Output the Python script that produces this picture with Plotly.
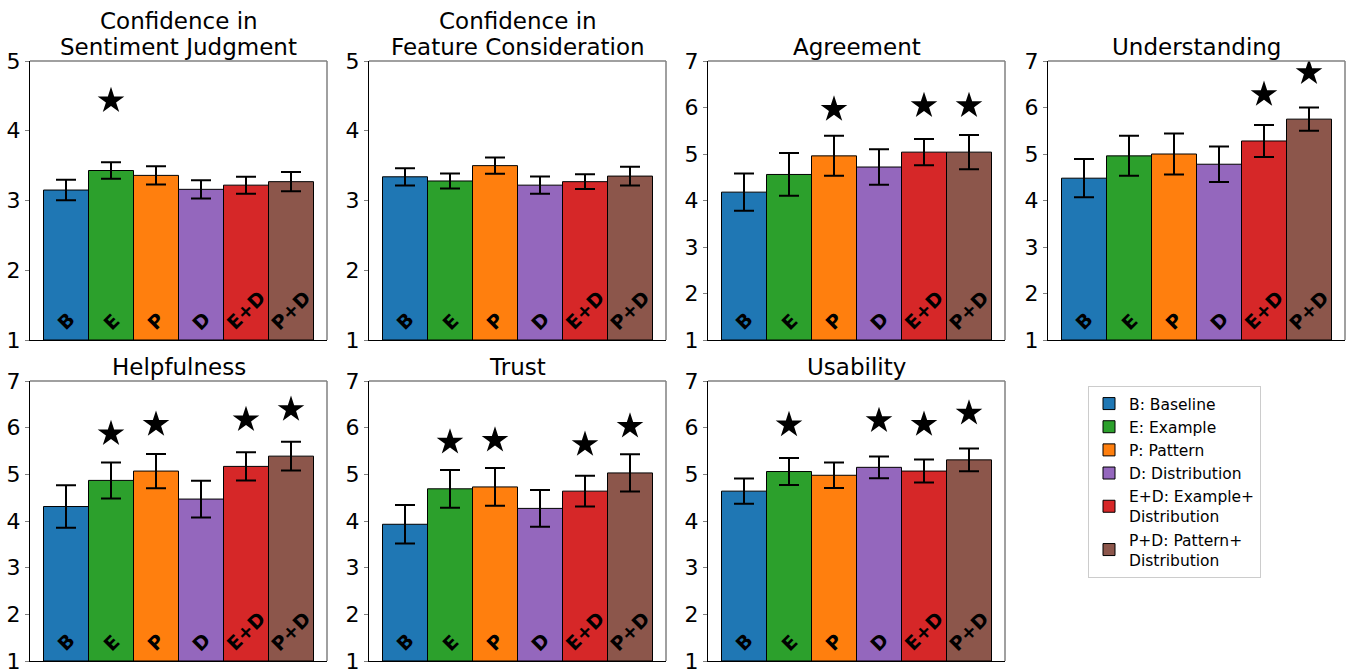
import plotly.graph_objects as go

# Condition codes, legend text and colours
groups = ["B", "E", "P", "D", "E+D", "P+D"]
legend_names = ["B: Baseline", "E: Example", "P: Pattern", "D: Distribution",
                "E+D: Example+<br>Distribution", "P+D: Pattern+<br>Distribution"]
colors = ["#1f77b4", "#2ca02c", "#ff7f0e", "#9467bd", "#d62728", "#8c564b"]

# Panel titles, one list of lines per panel
titles = [["Confidence in", "Sentiment Judgment"],
          ["Confidence in", "Feature Consideration"],
          ["Agreement"], ["Understanding"], ["Helpfulness"], ["Trust"], ["Usability"]]
y_max = [5, 5, 7, 7, 7, 7, 7]

# Mean ratings per condition (B, E, P, D, E+D, P+D)
sentiment_mean = [3.15, 3.43, 3.36, 3.16, 3.22, 3.27]
feature_mean = [3.34, 3.28, 3.50, 3.22, 3.27, 3.35]
agreement_mean = [4.18, 4.56, 4.96, 4.72, 5.04, 5.04]
understanding_mean = [4.48, 4.96, 5.00, 4.78, 5.28, 5.75]
helpfulness_mean = [4.31, 4.87, 5.07, 4.47, 5.17, 5.39]
trust_mean = [3.93, 4.69, 4.73, 4.27, 4.64, 5.03]
usability_mean = [4.64, 5.06, 4.98, 5.15, 5.07, 5.31]

# Error bar half-widths
sentiment_err = [0.146, 0.117, 0.131, 0.131, 0.122, 0.139]
feature_err = [0.124, 0.108, 0.115, 0.124, 0.105, 0.134]
agreement_err = [0.40, 0.46, 0.43, 0.38, 0.28, 0.37]
understanding_err = [0.41, 0.43, 0.44, 0.38, 0.345, 0.25]
helpfulness_err = [0.454, 0.386, 0.368, 0.393, 0.304, 0.31]
trust_err = [0.414, 0.404, 0.404, 0.393, 0.329, 0.40]
usability_err = [0.271, 0.29, 0.271, 0.232, 0.246, 0.243]

# Significant difference from baseline (1 = starred)
sentiment_sig = [0, 1, 0, 0, 0, 0]
feature_sig = [0, 0, 0, 0, 0, 0]
agreement_sig = [0, 0, 1, 0, 1, 1]
understanding_sig = [0, 0, 0, 0, 1, 1]
helpfulness_sig = [0, 1, 1, 0, 1, 1]
trust_sig = [0, 1, 1, 0, 1, 1]
usability_sig = [0, 1, 0, 1, 1, 1]

means = [sentiment_mean, feature_mean, agreement_mean, understanding_mean,
         helpfulness_mean, trust_mean, usability_mean]
errs = [sentiment_err, feature_err, agreement_err, understanding_err,
        helpfulness_err, trust_err, usability_err]
sigs = [sentiment_sig, feature_sig, agreement_sig, understanding_sig,
        helpfulness_sig, trust_sig, usability_sig]

STAR_OFFSET = 1.0
W, H = 1350, 669
FONT = "DejaVu Sans"
TITLE_LINE = 26  # px between title lines

# Panel boxes in pixels: (left, right, top, bottom)
col_x = [(30, 327), (369, 666), (708, 1005), (1048, 1345)]
row_y = [(61, 340), (381, 661)]
panels = []
for i in range(7):
    r, c = divmod(i, 4)
    panels.append((col_x[c], row_y[r]))

fig = go.Figure()
annotations = []
shapes = []
xs = list(range(len(groups)))

for i in range(7):
    (x0, x1), (y0, y1) = panels[i]
    sfx = "" if i == 0 else str(i + 1)
    xa, ya = "x" + sfx, "y" + sfx
    for j, g in enumerate(groups):
        fig.add_trace(go.Bar(
            x=[xs[j]], y=[means[i][j] - 1], base=1, width=1,
            marker=dict(color=colors[j], line=dict(color="black", width=1)),
            error_y=dict(type="data", array=[errs[i][j]], color="black",
                         thickness=2, width=10),
            name=legend_names[j], legendgroup=g, showlegend=(i == 0),
            xaxis=xa, yaxis=ya, hoverinfo="skip",
        ))
        annotations.append(dict(
            x=xs[j], y=1, xref=xa, yref=ya, text="<b>%s</b>" % g,
            showarrow=False, textangle=-45, xanchor="center", yanchor="bottom",
            yshift=3, font=dict(family=FONT, size=19, color="black"),
        ))
    sx = [xs[j] for j in range(6) if sigs[i][j]]
    sy = [means[i][j] + STAR_OFFSET for j in range(6) if sigs[i][j]]
    fig.add_trace(go.Scatter(
        x=sx, y=sy, mode="markers", showlegend=False, hoverinfo="skip",
        marker=dict(symbol="star", size=20, color="black", line=dict(width=0)),
        xaxis=xa, yaxis=ya,
    ))
    dom_x = [x0 / W, x1 / W]
    dom_y = [1 - y1 / H, 1 - y0 / H]
    fig.layout["xaxis" + sfx] = dict(
        domain=dom_x, range=[-0.8, 5.8], showticklabels=False, ticks="",
        showgrid=False, zeroline=False, showline=True, linecolor="black",
        linewidth=1, anchor=ya, fixedrange=True, automargin=False,
    )
    fig.layout["yaxis" + sfx] = dict(
        domain=dom_y, range=[1, y_max[i]], dtick=1, tick0=1,
        showgrid=False, zeroline=False, showline=True, linecolor="black",
        linewidth=1, ticks="outside", ticklen=4, tickcolor="#808080",
        tickfont=dict(family=FONT, size=22, color="black"), anchor=xa,
        fixedrange=True, automargin=False, ticklabeloverflow="allow",
    )
    # top and right frame edges
    shapes.append(dict(type="line", xref=xa + " domain", yref=ya + " domain",
                       x0=0, x1=1, y0=1, y1=1, line=dict(color="#808080", width=1.5)))
    shapes.append(dict(type="line", xref=xa + " domain", yref=ya + " domain",
                       x0=1, x1=1, y0=0, y1=1, line=dict(color="#808080", width=1.5)))
    # panel title, bottom line first
    lines = titles[i]
    for k, line in enumerate(reversed(lines)):
        annotations.append(dict(
            x=(x0 + x1) / 2 / W, y=1 - (y0 + 1 - k * TITLE_LINE) / H,
            xref="paper", yref="paper", text=line, showarrow=False,
            xanchor="center", yanchor="bottom",
            font=dict(family=FONT, size=23, color="black"),
        ))

fig.update_layout(
    width=W, height=H, margin=dict(l=0, r=0, t=0, b=0, autoexpand=False),
    paper_bgcolor="white", plot_bgcolor="white",
    barmode="overlay", annotations=annotations, shapes=shapes,
    font=dict(family=FONT, color="black"),
    legend=dict(
        x=1088 / W, y=1 - 386 / H, xanchor="left", yanchor="top",
        bgcolor="white", bordercolor="#cccccc", borderwidth=1,
        font=dict(family=FONT, size=15.5, color="black"),
        traceorder="normal", tracegroupgap=0,
    ),
)

fig.write_html("out.html")
